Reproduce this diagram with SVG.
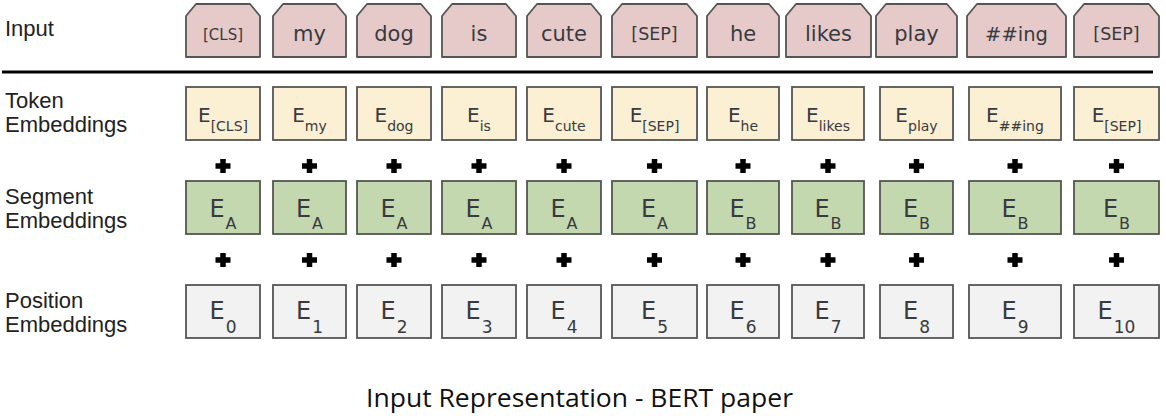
<svg xmlns="http://www.w3.org/2000/svg" width="1166" height="420" viewBox="0 0 1166 420">
<style>
.lbl{font-family:"Liberation Sans",Arial,sans-serif;font-size:22px;fill:#222}
.inp{fill:#e6caca;stroke:#555;stroke-width:1.8;stroke-linejoin:round}
.tok{fill:#fbf0d3;stroke:#555;stroke-width:1.8}
.seg{fill:#c4d8b0;stroke:#555;stroke-width:1.8}
.pos{fill:#f2f2f2;stroke:#555;stroke-width:1.8}
.t{font-family:"DejaVu Sans",Verdana,sans-serif;fill:#383a40;text-anchor:middle}
.it{font-size:21px}
.te{font-size:20px}
.ts{font-size:14px}
.se{font-size:24px}
.ss{font-size:16px}
.ps{font-size:17px}
.plus{fill:none;stroke:#000;stroke-width:5.5}
.cap{font-family:"Open Sans","Noto Sans",sans-serif;font-size:26px;fill:#111;text-anchor:middle}
</style>
<defs>
<path id="p" class="plus" d="M-7.5,0H7.5M0,-7V7"/>
</defs>
<g id="labels">
<text class="lbl" x="5" y="36">Input</text>
<text class="lbl" x="5" y="108">Token</text>
<text class="lbl" x="5" y="131.5">Embeddings</text>
<text class="lbl" x="5" y="203.5">Segment</text>
<text class="lbl" x="5" y="227.5">Embeddings</text>
<text class="lbl" x="5" y="308">Position</text>
<text class="lbl" x="5" y="331.5">Embeddings</text>
</g>
<g id="separator">
<line x1="2" y1="72" x2="1153" y2="72" stroke="#000" stroke-width="3"/>
</g>
<g id="input-row">
<g id="in-cls"><path class="inp" d="M186,57V16L196,4H250L260,16V57Z"/><text class="t" x="223" y="40" font-size="15">[CLS]</text></g>
<g id="in-my"><path class="inp" d="M273,57V16L283,4H336L346,16V57Z"/><text class="t it" x="309.5" y="41">my</text></g>
<g id="in-dog"><path class="inp" d="M357,57V16L367,4H421L431,16V57Z"/><text class="t it" x="394" y="41">dog</text></g>
<g id="in-is"><path class="inp" d="M442,57V16L452,4H506L516,16V57Z"/><text class="t it" x="479" y="41">is</text></g>
<g id="in-cute"><path class="inp" d="M527,57V16L537,4H591L601,16V57Z"/><text class="t it" x="564" y="41">cute</text></g>
<g id="in-sep1"><path class="inp" d="M612,57V16L622,4H687L697,16V57Z"/><text class="t" x="654.5" y="40" font-size="17.5">[SEP]</text></g>
<g id="in-he"><path class="inp" d="M707,57V16L717,4H769L779,16V57Z"/><text class="t it" x="743" y="41">he</text></g>
<g id="in-likes"><path class="inp" d="M786,57V16L796,4H861L871,16V57Z"/><text class="t it" x="828.5" y="41">likes</text></g>
<g id="in-play"><path class="inp" d="M876,57V16L886,4H947L957,16V57Z"/><text class="t it" x="916.5" y="41">play</text></g>
<g id="in-ing"><path class="inp" d="M967,57V16L977,4H1056L1066,16V57Z"/><text class="t" x="1016.5" y="41" font-size="19.5">##ing</text></g>
<g id="in-sep2"><path class="inp" d="M1074,57V16L1084,4H1149L1159,16V57Z"/><text class="t" x="1116.5" y="40" font-size="17.5">[SEP]</text></g>
</g>
<g id="token-row">
<g id="tok-cls"><rect class="tok" x="186" y="87" width="74" height="53"/><text class="t" x="223" y="122"><tspan class="te">E</tspan><tspan class="ts" dy="9">[CLS]</tspan></text></g>
<g id="tok-my"><rect class="tok" x="273" y="87" width="73" height="53"/><text class="t" x="309.5" y="122"><tspan class="te">E</tspan><tspan class="ts" dy="9">my</tspan></text></g>
<g id="tok-dog"><rect class="tok" x="357" y="87" width="74" height="53"/><text class="t" x="394" y="122"><tspan class="te">E</tspan><tspan class="ts" dy="9">dog</tspan></text></g>
<g id="tok-is"><rect class="tok" x="442" y="87" width="74" height="53"/><text class="t" x="479" y="122"><tspan class="te">E</tspan><tspan class="ts" dy="9">is</tspan></text></g>
<g id="tok-cute"><rect class="tok" x="527" y="87" width="74" height="53"/><text class="t" x="564" y="122"><tspan class="te">E</tspan><tspan class="ts" dy="9">cute</tspan></text></g>
<g id="tok-sep1"><rect class="tok" x="612" y="87" width="85" height="53"/><text class="t" x="654.5" y="122"><tspan class="te">E</tspan><tspan class="ts" dy="9">[SEP]</tspan></text></g>
<g id="tok-he"><rect class="tok" x="707" y="87" width="72" height="53"/><text class="t" x="743" y="122"><tspan class="te">E</tspan><tspan class="ts" dy="9">he</tspan></text></g>
<g id="tok-likes"><rect class="tok" x="792" y="87" width="72" height="53"/><text class="t" x="828" y="122"><tspan class="te">E</tspan><tspan class="ts" dy="9">likes</tspan></text></g>
<g id="tok-play"><rect class="tok" x="880" y="87" width="73" height="53"/><text class="t" x="916.5" y="122"><tspan class="te">E</tspan><tspan class="ts" dy="9">play</tspan></text></g>
<g id="tok-ing"><rect class="tok" x="969" y="87" width="92" height="53"/><text class="t" x="1015" y="122"><tspan class="te">E</tspan><tspan class="ts" dy="9" font-size="13">##ing</tspan></text></g>
<g id="tok-sep2"><rect class="tok" x="1074" y="87" width="85" height="53"/><text class="t" x="1116.5" y="122"><tspan class="te">E</tspan><tspan class="ts" dy="9">[SEP]</tspan></text></g>
</g>
<g id="plus-signs">
<use href="#p" x="223" y="166"/><use href="#p" x="309.5" y="166"/><use href="#p" x="394" y="166"/><use href="#p" x="479" y="166"/><use href="#p" x="564" y="166"/><use href="#p" x="654.5" y="166"/><use href="#p" x="743" y="166"/><use href="#p" x="828" y="166"/><use href="#p" x="916.5" y="166"/><use href="#p" x="1015" y="166"/><use href="#p" x="1116.5" y="166"/>
<use href="#p" x="223" y="260"/><use href="#p" x="309.5" y="260"/><use href="#p" x="394" y="260"/><use href="#p" x="479" y="260"/><use href="#p" x="564" y="260"/><use href="#p" x="654.5" y="260"/><use href="#p" x="743" y="260"/><use href="#p" x="828" y="260"/><use href="#p" x="916.5" y="260"/><use href="#p" x="1015" y="260"/><use href="#p" x="1116.5" y="260"/>
</g>
<g id="segment-row">
<g id="seg-1"><rect class="seg" x="186" y="181" width="74" height="53"/><text class="t" x="223" y="217"><tspan class="se">E</tspan><tspan class="ss" dx="1" dy="12">A</tspan></text></g>
<g id="seg-2"><rect class="seg" x="273" y="181" width="73" height="53"/><text class="t" x="309.5" y="217"><tspan class="se">E</tspan><tspan class="ss" dx="1" dy="12">A</tspan></text></g>
<g id="seg-3"><rect class="seg" x="357" y="181" width="74" height="53"/><text class="t" x="394" y="217"><tspan class="se">E</tspan><tspan class="ss" dx="1" dy="12">A</tspan></text></g>
<g id="seg-4"><rect class="seg" x="442" y="181" width="74" height="53"/><text class="t" x="479" y="217"><tspan class="se">E</tspan><tspan class="ss" dx="1" dy="12">A</tspan></text></g>
<g id="seg-5"><rect class="seg" x="527" y="181" width="74" height="53"/><text class="t" x="564" y="217"><tspan class="se">E</tspan><tspan class="ss" dx="1" dy="12">A</tspan></text></g>
<g id="seg-6"><rect class="seg" x="612" y="181" width="85" height="53"/><text class="t" x="654.5" y="217"><tspan class="se">E</tspan><tspan class="ss" dx="1" dy="12">A</tspan></text></g>
<g id="seg-7"><rect class="seg" x="707" y="181" width="72" height="53"/><text class="t" x="743" y="217"><tspan class="se">E</tspan><tspan class="ss" dx="1" dy="12">B</tspan></text></g>
<g id="seg-8"><rect class="seg" x="792" y="181" width="72" height="53"/><text class="t" x="828" y="217"><tspan class="se">E</tspan><tspan class="ss" dx="1" dy="12">B</tspan></text></g>
<g id="seg-9"><rect class="seg" x="880" y="181" width="73" height="53"/><text class="t" x="916.5" y="217"><tspan class="se">E</tspan><tspan class="ss" dx="1" dy="12">B</tspan></text></g>
<g id="seg-10"><rect class="seg" x="969" y="181" width="92" height="53"/><text class="t" x="1015" y="217"><tspan class="se">E</tspan><tspan class="ss" dx="1" dy="12">B</tspan></text></g>
<g id="seg-11"><rect class="seg" x="1074" y="181" width="85" height="53"/><text class="t" x="1116.5" y="217"><tspan class="se">E</tspan><tspan class="ss" dx="1" dy="12">B</tspan></text></g>
</g>
<g id="position-row">
<g id="pos-0"><rect class="pos" x="186" y="285" width="74" height="53"/><text class="t" x="223" y="319"><tspan class="se">E</tspan><tspan class="ps" dx="1" dy="14">0</tspan></text></g>
<g id="pos-1"><rect class="pos" x="273" y="285" width="73" height="53"/><text class="t" x="309.5" y="319"><tspan class="se">E</tspan><tspan class="ps" dx="1" dy="14">1</tspan></text></g>
<g id="pos-2"><rect class="pos" x="357" y="285" width="74" height="53"/><text class="t" x="394" y="319"><tspan class="se">E</tspan><tspan class="ps" dx="1" dy="14">2</tspan></text></g>
<g id="pos-3"><rect class="pos" x="442" y="285" width="74" height="53"/><text class="t" x="479" y="319"><tspan class="se">E</tspan><tspan class="ps" dx="1" dy="14">3</tspan></text></g>
<g id="pos-4"><rect class="pos" x="527" y="285" width="74" height="53"/><text class="t" x="564" y="319"><tspan class="se">E</tspan><tspan class="ps" dx="1" dy="14">4</tspan></text></g>
<g id="pos-5"><rect class="pos" x="612" y="285" width="85" height="53"/><text class="t" x="654.5" y="319"><tspan class="se">E</tspan><tspan class="ps" dx="1" dy="14">5</tspan></text></g>
<g id="pos-6"><rect class="pos" x="707" y="285" width="72" height="53"/><text class="t" x="743" y="319"><tspan class="se">E</tspan><tspan class="ps" dx="1" dy="14">6</tspan></text></g>
<g id="pos-7"><rect class="pos" x="792" y="285" width="72" height="53"/><text class="t" x="828" y="319"><tspan class="se">E</tspan><tspan class="ps" dx="1" dy="14">7</tspan></text></g>
<g id="pos-8"><rect class="pos" x="880" y="285" width="73" height="53"/><text class="t" x="916.5" y="319"><tspan class="se">E</tspan><tspan class="ps" dx="1" dy="14">8</tspan></text></g>
<g id="pos-9"><rect class="pos" x="969" y="285" width="92" height="53"/><text class="t" x="1015" y="319"><tspan class="se">E</tspan><tspan class="ps" dx="1" dy="14">9</tspan></text></g>
<g id="pos-10"><rect class="pos" x="1074" y="285" width="85" height="53"/><text class="t" x="1116.5" y="319"><tspan class="se">E</tspan><tspan class="ps" dx="1" dy="14">10</tspan></text></g>
</g>
<g id="caption">
<text class="cap" x="579.5" y="407" textLength="427" lengthAdjust="spacingAndGlyphs">Input Representation - BERT paper</text>
</g>
</svg>
